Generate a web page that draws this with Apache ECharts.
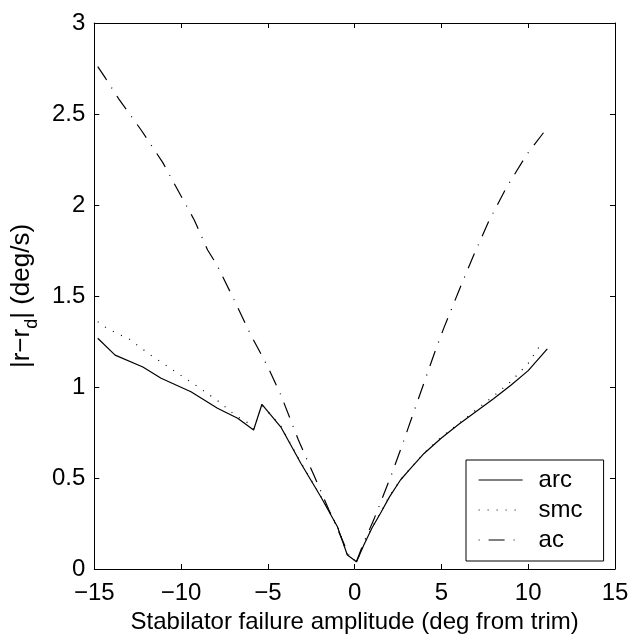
<!DOCTYPE html>
<html>
<head>
<meta charset="utf-8">
<script src="https://cdn.jsdelivr.net/npm/echarts@6/dist/echarts.min.js"></script>
<style>html,body{margin:0;padding:0;background:#fff}#c{width:634px;height:644px}</style>
</head>
<body>
<div id="c"></div>
<script>
// ---- data ----
const seriesNames = ['arc', 'smc', 'ac'];
const xTicks = [-15, -10, -5, 0, 5, 10, 15];
const yTicks = [0, 0.5, 1, 1.5, 2, 2.5, 3];

const arcX = [-14.8, -13.8, -12.2, -11.15, -9.43, -7.9, -6.74, -5.82, -5.34, -4.25, -3.1, -1.95, -0.99, -0.42, 0.11, 0.53, 1.0, 1.49, 2.0, 2.64, 3.2, 4, 5, 6, 7, 8, 9, 10, 11.1];
const arcY = [1.268, 1.175, 1.11, 1.048, 0.974, 0.883, 0.828, 0.764, 0.905, 0.78, 0.581, 0.397, 0.232, 0.077, 0.04, 0.132, 0.225, 0.306, 0.395, 0.489, 0.55, 0.635, 0.72, 0.795, 0.865, 0.935, 1.01, 1.09, 1.21];

const smcX = [-14.8, -14.21, -12.97, -11.82, -10.19, -9.04, -7.9, -6.84, -6.17, -5.82, -5.34, -4.25, -3.1, -1.95, -0.99, -0.42, 0.11, 0.53, 1.0, 1.49, 2.0, 2.64, 3.2, 4, 5, 6, 7, 8, 9, 10, 10.7];
const smcY = [1.359, 1.319, 1.262, 1.18, 1.075, 1.002, 0.925, 0.842, 0.804, 0.77, 0.9, 0.785, 0.585, 0.40, 0.235, 0.08, 0.04, 0.135, 0.228, 0.31, 0.40, 0.49, 0.552, 0.637, 0.725, 0.80, 0.875, 0.95, 1.03, 1.13, 1.23];

const acX = [-14.8, -14.41, -13.58, -12.3, -11.05, -10, -9.24, -8.47, -7.93, -6.94, -5.98, -4.96, -4.25, -3.24, -2.35, -1.48, -0.8, -0.3, 0.1, 0.5, 1.1, 2.13, 2.64, 3.6, 4.66, 5.13, 5.96, 6.82, 7.72, 8.74, 9.92, 10.88];
const acY = [2.76, 2.705, 2.582, 2.412, 2.233, 2.049, 1.918, 1.753, 1.67, 1.478, 1.286, 1.103, 0.956, 0.709, 0.516, 0.324, 0.18, 0.07, 0.04, 0.14, 0.27, 0.52, 0.654, 0.915, 1.203, 1.322, 1.518, 1.716, 1.909, 2.095, 2.278, 2.397];

const xLabel = 'Stabilator failure amplitude (deg from trim)';

function pairs(xs, ys) { return xs.map((x, i) => [x, ys[i]]); }
const FONT = 'Liberation Sans, Arial, Helvetica, sans-serif';
const minus = v => String(v).replace('-', '\u2212');
const DOT = [1, 8];
const DASHDOT = [16, 9, 1, 9];
const LW = 1.2;

const baseAxis = {
  type: 'value',
  axisLine: { show: true, onZero: false, lineStyle: { color: '#000', width: 1 } },
  axisTick: { show: true, inside: true, length: 5, lineStyle: { color: '#000', width: 1 } },
  splitLine: { show: false },
};

const chart = echarts.init(document.getElementById('c'), null, { renderer: 'canvas' });
chart.setOption({
  animation: false,
  backgroundColor: '#fff',
  grid: { left: 93, right: 19, top: 23, bottom: 75, containLabel: false },
  xAxis: [
    Object.assign({}, baseAxis, {
      position: 'bottom', min: xTicks[0], max: xTicks[xTicks.length - 1], interval: 5,
      axisLabel: { show: true, color: '#000', fontSize: 24, fontFamily: FONT, margin: 12, formatter: minus },
      name: xLabel, nameLocation: 'middle', nameGap: 41,
      nameTextStyle: { color: '#000', fontSize: 24, fontFamily: FONT }
    }),
    Object.assign({}, baseAxis, {
      position: 'top', min: xTicks[0], max: xTicks[xTicks.length - 1], interval: 5,
      axisLabel: { show: false }
    })
  ],
  yAxis: [
    Object.assign({}, baseAxis, {
      position: 'left', min: yTicks[0], max: yTicks[yTicks.length - 1], interval: 0.5,
      axisLabel: { show: true, color: '#000', fontSize: 24, fontFamily: FONT, margin: 9, formatter: v => String(v) },
      name: '|r\u2212r{sub|d}| (deg/s)', nameLocation: 'middle', nameGap: 60, nameRotate: 90,
      nameTextStyle: {
        color: '#000', fontSize: 26, fontFamily: FONT, lineHeight: 28, verticalAlign: 'top',
        rich: { sub: { fontSize: 18, fontFamily: FONT, color: '#000', lineHeight: 18, verticalAlign: 'top', padding: [15, 0, 0, 0] } }
      }
    }),
    Object.assign({}, baseAxis, {
      position: 'right', min: yTicks[0], max: yTicks[yTicks.length - 1], interval: 0.5,
      axisLabel: { show: false }
    })
  ],
  legend: {
    show: true, orient: 'vertical', left: 466, top: 460,
    data: [
      { name: seriesNames[0] },
      { name: seriesNames[1], lineStyle: { type: DOT, dashOffset: 0 } },
      { name: seriesNames[2], lineStyle: { type: DASHDOT, dashOffset: 25 } }
    ],
    selectedMode: false,
    backgroundColor: '#fff', borderColor: '#000', borderWidth: 1, borderRadius: 0,
    padding: [7, 21, 8, 12], itemGap: 4, itemWidth: 44, itemHeight: 14,
    itemStyle: { opacity: 0, color: 'rgba(0,0,0,0)', borderWidth: 0 },
    lineStyle: { color: '#000', width: LW },
    textStyle: { color: '#000', fontSize: 24, fontFamily: FONT, lineHeight: 26, padding: [0, 0, 0, 11] }
  },
  series: [
    { name: seriesNames[0], type: 'line', data: pairs(arcX, arcY), symbol: 'none', showSymbol: false, color: '#000',
      lineStyle: { color: '#000', width: LW, type: 'solid' }, z: 3 },
    { name: seriesNames[1], type: 'line', data: pairs(smcX, smcY), symbol: 'none', showSymbol: false, color: '#000',
      lineStyle: { color: '#000', width: LW, type: DOT }, z: 2 },
    { name: seriesNames[2], type: 'line', data: pairs(acX, acY), symbol: 'none', showSymbol: false, color: '#000',
      lineStyle: { color: '#000', width: LW, type: DASHDOT }, z: 2 }
  ]
});
</script>
</body>
</html>
